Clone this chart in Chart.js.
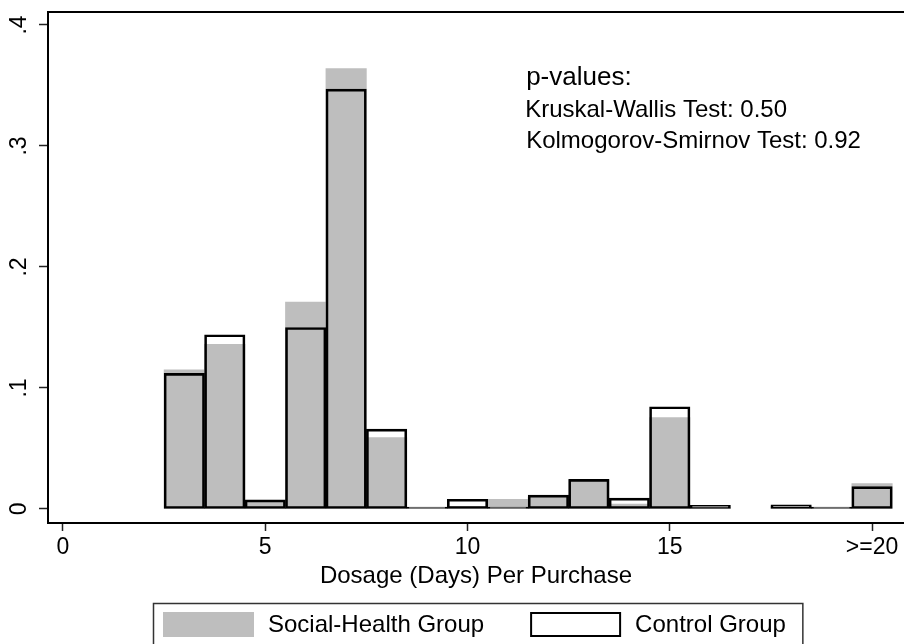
<!DOCTYPE html>
<html>
<head>
<meta charset="utf-8">
<title>Dosage Per Purchase</title>
<script src="https://cdn.jsdelivr.net/npm/chart.js@4.4.1/dist/chart.umd.min.js"></script>
<style>
  html, body { margin: 0; padding: 0; background: #fff; }
  #wrap { width: 904px; height: 644px; }
</style>
</head>
<body>
<div id="wrap"><canvas id="dosageChart" width="904" height="644"></canvas></div>
<script>
// days per purchase (20 = ">=20")
const dosage = [3, 4, 5, 6, 7, 8, 9, 10, 11, 12, 13, 14, 15, 16, 17, 18, 19, 20];

// fraction of purchases
const socialHealth = [0.115, 0.136, 0.0065, 0.171, 0.364, 0.059, 0.001, 0.002, 0.008, 0.0097, 0.024, 0.004, 0.0755, 0.001, null, 0.002, 0.001, 0.021];
const controlGroup = [0.112, 0.144, 0.0075, 0.150, 0.347, 0.066, 0.0015, 0.008, 0.0015, 0.0115, 0.0245, 0.009, 0.0845, 0.003, null, 0.0035, 0.0015, 0.0185];

const xTicks = [0, 5, 10, 15, 20];
const xTickLabels = ['0', '5', '10', '15', '>=20'];
const yTicks = [0, 0.1, 0.2, 0.3, 0.4];
const yTickLabels = ['0', '.1', '.2', '.3', '.4'];

const noteLines = ['p-values:', 'Kruskal-Wallis Test: 0.50', 'Kolmogorov-Smirnov Test: 0.92'];

const FONT = '"Liberation Sans", Arial, Helvetica, sans-serif';


const toPoints = vals => dosage.map((d, i) => ({ x: d, y: vals[i] }));

// top border of the plot region
const framePlugin = {
  id: 'frame',
  afterDraw(chart) {
    const { ctx, chartArea } = chart;
    ctx.save();
    ctx.strokeStyle = '#000';
    ctx.lineWidth = 2;
    ctx.beginPath();
    ctx.moveTo(chartArea.left - 1, chartArea.top);
    ctx.lineTo(chartArea.right, chartArea.top);
    ctx.stroke();
    ctx.restore();
  }
};

// p-values note, placed in data units
const notePlugin = {
  id: 'note',
  afterDraw(chart) {
    const { ctx, scales } = chart;
    const x = scales.x.getPixelForValue(11.45);
    const ys = [0.356, 0.329, 0.304];
    const sizes = [26, 24, 24];
    ctx.save();
    ctx.fillStyle = '#000';
    ctx.textBaseline = 'middle';
    noteLines.forEach((line, i) => {
      ctx.font = sizes[i] + 'px ' + FONT;
      ctx.fillText(line, x + (i === 1 ? -1 : 0), scales.y.getPixelForValue(ys[i]));
    });
    ctx.restore();
  }
};

// boxed legend below the axis title
const legendPlugin = {
  id: 'boxLegend',
  afterDraw(chart) {
    const ctx = chart.ctx;
    const sets = chart.data.datasets;
    const keyW = 91, keyH = 25, keyTop = 612;
    let x = 163;

    ctx.save();
    ctx.font = '24px ' + FONT;
    ctx.textBaseline = 'middle';

    sets.forEach((ds, i) => {
      if (ds.borderWidth > 0) {
        ctx.fillStyle = '#fff';
        ctx.fillRect(x, keyTop, keyW, keyH);
        ctx.strokeStyle = ds.borderColor;
        ctx.lineWidth = 2;
        ctx.strokeRect(x + 1, keyTop + 1, keyW - 2, keyH - 2);
      } else {
        ctx.fillStyle = ds.backgroundColor;
        ctx.fillRect(x, keyTop, keyW, keyH);
      }
      x += keyW + 14;
      ctx.fillStyle = '#000';
      ctx.fillText(ds.label, x, keyTop + keyH / 2 + 1);
      x += ctx.measureText(ds.label).width;
      if (i < sets.length - 1) x += 46;
    });

    ctx.strokeStyle = '#333';
    ctx.lineWidth = 1.5;
    ctx.strokeRect(153.5, 603.5, x + 17 - 153.5, 60);
    ctx.restore();
  }
};


const ctx = document.getElementById('dosageChart');

new Chart(ctx, {
  type: 'bar',
  data: {
    datasets: [{
      label: 'Social-Health Group',
      data: toPoints(socialHealth),
      backgroundColor: '#bebebe',
      borderWidth: 0,
      order: 2
    }, {
      label: 'Control Group',
      data: toPoints(controlGroup),
      backgroundColor: 'rgba(0,0,0,0)',
      borderColor: '#000',
      borderWidth: 2,
      borderSkipped: false,
      order: 1
    }]
  },
  options: {
    responsive: false,
    animation: false,
    devicePixelRatio: 1,
    grouped: false,
    barPercentage: 1,
    categoryPercentage: 1,
    layout: {
      padding: { top: 12, left: 0, right: 0, bottom: 41 }
    },
    plugins: {
      legend: { display: false },
      tooltip: { enabled: false }
    },
    scales: {
      x: {
        type: 'linear',
        min: -0.37,
        max: 20.79,
        offset: false,
        afterBuildTicks: scale => {
          scale.ticks = xTicks.map(v => ({ value: v }));
        },
        afterFit: scale => {
          scale.height = 80;
          scale.paddingLeft = 0;
          scale.paddingRight = 0;
        },
        ticks: {
          autoSkip: false,
          maxRotation: 0,
          padding: 3,
          color: '#000',
          font: { family: FONT, size: 23 },
          callback: v => xTickLabels[xTicks.indexOf(v)]
        },
        grid: {
          offset: false,
          drawOnChartArea: false,
          tickLength: 8,
          tickWidth: 1.5,
          tickColor: '#222'
        },
        border: { color: '#000', width: 2 },
        title: {
          display: true,
          text: 'Dosage (Days) Per Purchase',
          color: '#000',
          font: { family: FONT, size: 24 },
          padding: { top: 0, bottom: 12 }
        }
      },
      y: {
        min: -0.0116,
        max: 0.4107,
        afterBuildTicks: scale => {
          scale.ticks = yTicks.map(v => ({ value: v }));
        },
        afterFit: scale => {
          scale.width = 48;
          scale.paddingTop = 0;
          scale.paddingBottom = 0;
        },
        ticks: {
          minRotation: 90,
          maxRotation: 90,
          crossAlign: 'center',
          padding: 10,
          color: '#000',
          font: { family: FONT, size: 23 },
          callback: v => yTickLabels[yTicks.indexOf(v)]
        },
        grid: {
          drawOnChartArea: false,
          tickLength: 9,
          tickWidth: 1.5,
          tickColor: '#222'
        },
        border: { color: '#000', width: 2 }
      }
    }
  },
  plugins: [framePlugin, notePlugin, legendPlugin]
});
</script>
</body>
</html>
